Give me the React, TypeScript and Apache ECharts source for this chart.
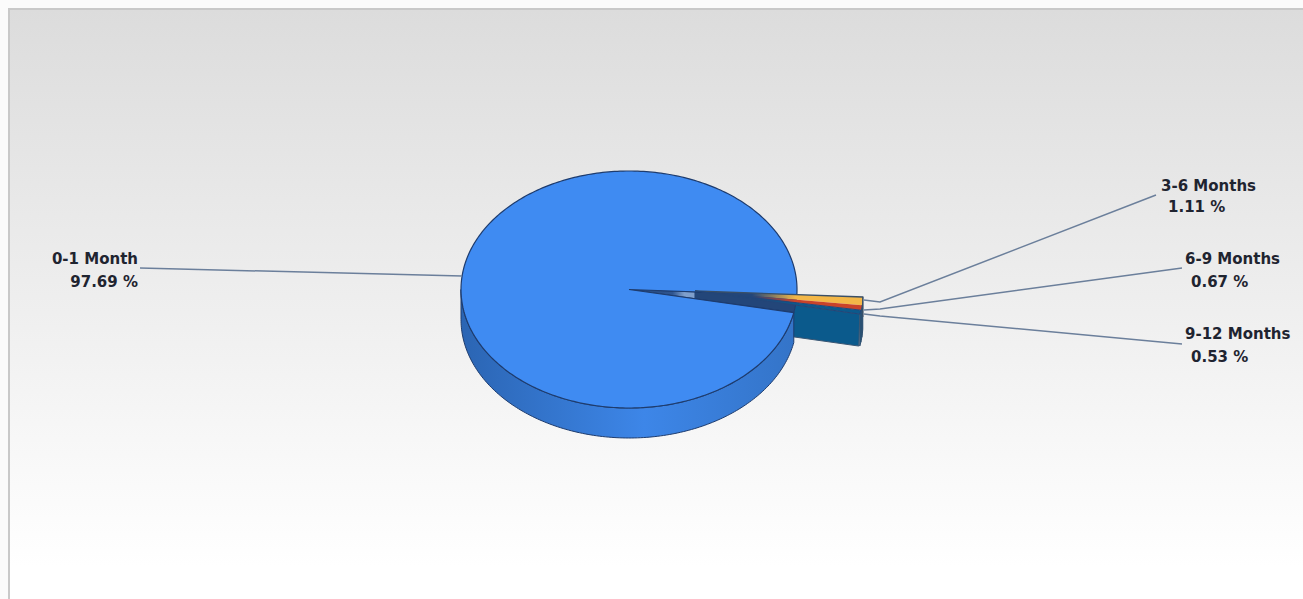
import React, { useEffect, useRef } from "react";
import * as echarts from "echarts";

const categories = ["3-6 Months", "6-9 Months", "9-12 Months", "0-1 Month"];
const shares = [1.11, 0.67, 0.53, 97.69];

const W = 1303, H = 599;
const cx = 629, cy = 289.5, rx = 168, ry = 118.5, depth = 30, wedgeDepth = 32;
const startDeg = 2.9;
const offsets = [[66, 1.5], [66, 1.5], [66, 1.5], [0, 0]];
const topColors = ["#F3B748", "#C9432A", "#0B5A8C", "#3F8BF2"];
const outline = "#1E3C6E";
const navy = "#234679";
const leader = "#6B7F9B";
const FONT = "'DejaVu Sans', sans-serif";

const labelLayout = [
  { nameX: 1161, nameY: 186, valX: 1168, valY: 207, align: "left", line: [[864, 300], [880, 302], [1156, 195]] },
  { nameX: 1185, nameY: 259, valX: 1191, valY: 282, align: "left", line: [[864, 310], [880, 309], [1182, 268]] },
  { nameX: 1185, nameY: 334, valX: 1191, valY: 357, align: "left", line: [[864, 314], [880, 316], [1182, 344]] },
  { nameX: 138, nameY: 259, valX: 138, valY: 282, align: "right", line: [[140, 268], [462, 276]] },
];

const rad = (d: number) => (d * Math.PI) / 180;
const pt = (x0: number, y0: number, d: number) => [x0 + rx * Math.cos(rad(d)), y0 + ry * Math.sin(rad(d))];
const arc = (x0: number, y0: number, a: number, b: number) => {
  const pts: number[][] = [];
  const n = Math.max(2, Math.ceil(Math.abs(b - a)));
  for (let i = 0; i <= n; i++) pts.push(pt(x0, y0, a + ((b - a) * i) / n));
  return pts;
};

const total = shares.reduce((s, v) => s + v, 0);
const angles: number[][] = [];
shares.reduce((acc, v) => {
  const next = acc + (v / total) * 360;
  angles.push([acc, next]);
  return next;
}, startDeg);

function renderSlice(params: any) {
  const i = params.dataIndex;
  const [a, b] = angles[i];
  const [dx, dy] = offsets[i];
  const x0 = cx + dx, y0 = cy + dy;
  const children: any[] = [];
  const isMain = i === 3;

  if (isMain) {
    // cut-away gap seen through the main disc
    children.push({
      type: "polygon", z2: 5,
      shape: { points: [[cx, cy], ...arc(cx, cy, angles[0][0], a)] },
      style: {
        fill: new echarts.graphic.LinearGradient(0, 0, 1, 0, [
          { offset: 0, color: navy },
          { offset: 0.26, color: "#2F5590" },
          { offset: 0.33, color: "#7F9FCC" },
          { offset: 0.385, color: "#7F9FCC" },
          { offset: 0.395, color: navy },
          { offset: 1, color: navy },
        ]),
        stroke: outline, lineWidth: 1,
      },
    });
    const rimTop = arc(cx, cy, a, 180);
    const rimBottom = arc(cx, cy + depth, 180, a);
    children.push({
      type: "polygon", z2: 4,
      shape: { points: [...rimTop, ...rimBottom] },
      style: {
        fill: new echarts.graphic.LinearGradient(0, 0, 1, 0, [
          { offset: 0, color: "#2B65B3" },
          { offset: 0.55, color: "#3D86E8" },
          { offset: 1, color: "#3474C8" },
        ]),
        stroke: outline, lineWidth: 1,
      },
    });
    children.push({
      type: "polygon", z2: 6,
      shape: { points: [[cx, cy], ...arc(cx, cy, a, b)] },
      style: { fill: topColors[i], stroke: outline, lineWidth: 1.2 },
    });
  } else {
    // rim of the exploded slice
    children.push({
      type: "polygon", z2: 2,
      shape: { points: [...arc(x0, y0, a, b), ...arc(x0, y0 + wedgeDepth, b, a)] },
      style: { fill: "#0B5A8C", stroke: "#2F4F6F", lineWidth: 1 },
    });
    if (i === 2) {
      const rimPt = pt(x0, y0, b);
      children.push({
        type: "polygon", z2: 3,
        shape: { points: [[x0, y0], rimPt, [rimPt[0] - 1, rimPt[1] + wedgeDepth], [x0, y0 + wedgeDepth]] },
        style: { fill: "#0B5A8C", stroke: "#3A5673", lineWidth: 1 },
      });
    }
    children.push({
      type: "polygon", z2: 7,
      shape: { points: [[x0, y0], ...arc(x0, y0, a, b)] },
      style: {
        fill: new echarts.graphic.LinearGradient(0, 0, 1, 0, [
          { offset: 0, color: navy },
          { offset: 0.34, color: navy },
          { offset: 0.6, color: topColors[i] },
          { offset: 1, color: topColors[i] },
        ]),
        stroke: i === 2 ? navy : "none", lineWidth: 1,
      },
    });
    if (i === 0) {
      children.push({
        type: "polyline", z2: 7,
        shape: { points: [[x0, y0], pt(x0, y0, a), [pt(x0, y0, a)[0], pt(x0, y0, a)[1] + 20]] },
        style: { fill: "none", stroke: "#3A4F66", lineWidth: 1.3 },
      });
    }
  }

  const l = labelLayout[i];
  children.push({
    type: "polyline", z2: 8,
    shape: { points: l.line },
    style: { fill: "none", stroke: leader, lineWidth: 1.5 },
  });
  const textStyle = { fill: "#1F2430", font: `bold 15px ${FONT}`, align: l.align, verticalAlign: "middle" };
  children.push({ type: "text", z2: 9, x: l.nameX, y: l.nameY, style: { ...textStyle, text: categories[i] } });
  children.push({ type: "text", z2: 9, x: l.valX, y: l.valY, style: { ...textStyle, text: `${shares[i].toFixed(2)} %` } });

  return { type: "group", children };
}

export default function App() {
  const ref = useRef<HTMLDivElement>(null);
  useEffect(() => {
    document.body.style.margin = "0";
    const chart = echarts.init(ref.current!, undefined, { renderer: "svg" });
    chart.setOption({
      animation: false,
      backgroundColor: "#FBFBFB",
      graphic: [
        {
          type: "rect", z: -10, silent: true,
          shape: { x: 9, y: 9, width: W + 20, height: H + 20 },
          style: {
            fill: new echarts.graphic.LinearGradient(0, 0, 0, 1, [
              { offset: 0, color: "#DCDCDC" },
              { offset: 0.9, color: "#FFFFFF" },
              { offset: 1, color: "#FFFFFF" },
            ]),
            stroke: "#C9C9C9", lineWidth: 2,
          },
        },
      ],
      series: [
        {
          type: "custom",
          coordinateSystem: "none",
          silent: true,
          clip: false,
          renderItem: renderSlice,
          data: categories.map((name, i) => ({ name, value: shares[i] })),
        },
      ],
    });
    return () => chart.dispose();
  }, []);
  return <div ref={ref} style={{ position: "absolute", left: 0, top: 0, width: W, height: H }} />;
}
